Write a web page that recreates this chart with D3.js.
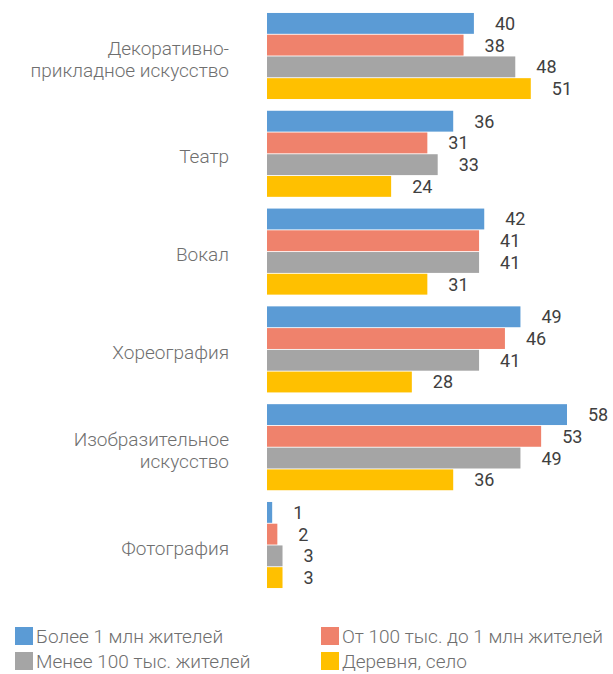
<!DOCTYPE html>
<html><head><meta charset="utf-8">
<script src="https://cdn.jsdelivr.net/npm/d3@7"></script>
<style>body{margin:0;background:#fff}</style>
</head><body>
<svg id="c" width="613" height="674"></svg>
<script>
const categories = [
  ["Декоративно-", "прикладное искусство"],
  ["Театр"],
  ["Вокал"],
  ["Хореография"],
  ["Изобразительное", "искусство"],
  ["Фотография"]
];
const seriesNames = ["Более 1 млн жителей", "От 100 тыс. до 1 млн жителей", "Менее 100 тыс. жителей", "Деревня, село"];
const seriesColors = ["#5B9BD5", "#EF826C", "#A5A5A5", "#FFC000"];
const big = [40, 36, 42, 49, 58, 1];
const mid = [38, 31, 41, 46, 53, 2];
const small = [48, 33, 41, 41, 49, 3];
const village = [51, 24, 31, 28, 36, 3];
const series = [big, mid, small, village];

const svg = d3.select("#c");
const catKeys = categories.map((c, i) => i);
const x = d3.scaleLinear().domain([0, 58]).range([267, 567]);
const y = d3.scaleBand().domain(catKeys).range([7, 594]).paddingInner(0.12).paddingOuter(0.061);
const ys = d3.scaleBand().domain(d3.range(series.length)).range([0, y.bandwidth()]).paddingInner(0.04);

const g = svg.append("g");
catKeys.forEach(ci => {
  const gg = g.append("g").attr("transform", `translate(0,${y(ci)})`);
  series.forEach((s, si) => {
    gg.append("rect")
      .attr("x", x(0)).attr("y", ys(si))
      .attr("width", x(s[ci]) - x(0)).attr("height", ys.bandwidth())
      .attr("fill", seriesColors[si]);
    gg.append("text")
      .attr("x", x(s[ci]) + 21).attr("y", ys(si) + ys.bandwidth() / 2)
      .attr("dy", "0.36em")
      .attr("font-family", "Roboto, sans-serif").attr("font-size", 18)
      .attr("fill", "#404040")
      .text(s[ci]);
  });
  const lines = categories[ci];
  const cy = y.bandwidth() / 2 + 3;
  const lh = 22;
  const t = gg.append("text")
    .attr("text-anchor", "end")
    .attr("font-family", "Roboto, sans-serif").attr("font-weight", 300).attr("font-size", 19)
    .attr("fill", "#6f6f6f");
  lines.forEach((l, li) => {
    t.append("tspan").attr("x", 229)
      .attr("y", cy + (li - (lines.length - 1) / 2) * lh)
      .attr("dy", "0.35em").text(l);
  });
});

// legend
const legPos = [[15, 636], [321, 636], [15, 661], [321, 661]];
seriesNames.forEach((n, i) => {
  const [lx, ly] = legPos[i];
  svg.append("rect").attr("x", lx).attr("y", ly - 9).attr("width", 18).attr("height", 18).attr("fill", seriesColors[i]);
  svg.append("text").attr("x", lx + 21).attr("y", ly).attr("dy", "0.35em")
    .attr("font-family", "Roboto, sans-serif").attr("font-weight", 300).attr("font-size", 19)
    .attr("fill", "#6f6f6f").text(n);
});
</script>
</body></html>
